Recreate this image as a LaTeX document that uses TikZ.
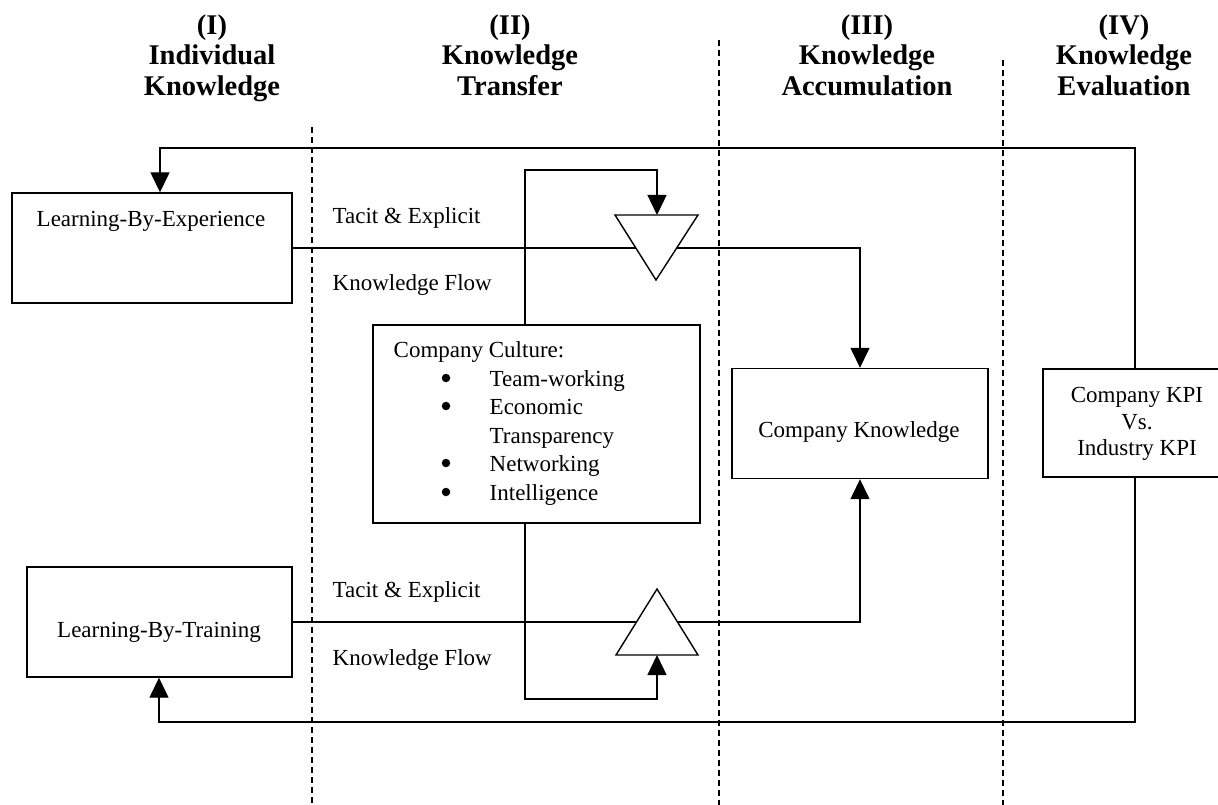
\documentclass[tikz,border=0pt]{standalone}
\usepackage{fontspec}
\setmainfont{Liberation Serif}
\usetikzlibrary{arrows.meta,calc}
\begin{document}
\begin{tikzpicture}[x=1pt,y=-1pt,
  line width=1.4pt,
  body/.style={font=\fontsize{23}{26.5}\selectfont, inner sep=0pt},
  head/.style={font=\bfseries\fontsize{28.5}{30}\selectfont, inner sep=0pt, anchor=base},
  box/.style={draw, inner sep=0pt},
  bul/.style={circle, fill, draw=none, inner sep=0pt, minimum size=8.5pt},
  divider/.style={line width=1.2pt, dash pattern=on 6pt off 4pt},
  arr/.style={-{Triangle[length=20pt,width=19pt]}},
  tri/.style={draw, fill=white, line width=1.4pt}]
\clip (0,0) rectangle (1218,805);
\fill[white] (0,0) rectangle (1218,805);

% headers
\node[head] (h1a) at (212,35) {(I)};
\node[head] (h1b) at (212,65) {Individual};
\node[head] (h1c) at (212,96) {Knowledge};
\node[head] (h2a) at (510,35) {(II)};
\node[head] (h2b) at (510,65) {Knowledge};
\node[head] (h2c) at (510,96) {Transfer};
\node[head] (h3a) at (867,35) {(III)};
\node[head] (h3b) at (867,65) {Knowledge};
\node[head] (h3c) at (867,96) {Accumulation};
\node[head] (h4a) at (1124,35) {(IV)};
\node[head] (h4b) at (1124,65) {Knowledge};
\node[head] (h4c) at (1124,96) {Evaluation};

% dividers
\draw[divider] (312,127) -- (312,805);
\draw[divider] (719,40) -- (719,805);
\draw[divider] (1003,60) -- (1003,805);

% boxes
\node[box, minimum width=280, minimum height=110] (exp) at (152,248) {};
\node[body, anchor=base] (expT) at (151,226) {Learning-By-Experience};
\node[box, minimum width=265, minimum height=110] (trn) at (159.5,622) {};
\node[body, anchor=base] (trnT) at (159,637) {Learning-By-Training};
\node[box, minimum width=327, minimum height=198] (cul) at (536.5,424) {};
\node[body, anchor=base west] (culT) at (393,357) {Company Culture:};
\node[bul] (b1) at (446,378) {};
\node[bul] (b2) at (446,406) {};
\node[bul] (b3) at (446,463) {};
\node[bul] (b4) at (446,492) {};
\node[body, anchor=base west] (i1) at (489,386) {Team-working};
\node[body, anchor=base west] (i2) at (489,414) {Economic};
\node[body, anchor=base west] (i2b) at (489,443) {Transparency};
\node[body, anchor=base west] (i3) at (489,471) {Networking};
\node[body, anchor=base west] (i4) at (489,500) {Intelligence};
\node[box, minimum width=256, minimum height=110] (ck) at (860,423.5) {};
\node[body, anchor=base] (ckT) at (859,437) {Company Knowledge};
\node[box, minimum width=184, minimum height=108] (kpi) at (1135,423) {};
\node[body, anchor=base] (kpi1) at (1137,402) {Company KPI};
\node[body, anchor=base] (kpi2) at (1137,429) {Vs.};
\node[body, anchor=base] (kpi3) at (1137,455) {Industry KPI};

% labels
\node[body, anchor=base west] (lt1) at (332,224) {Tacit \& Explicit};
\node[body, anchor=base west] (lt2) at (332,290) {Knowledge Flow};
\node[body, anchor=base west] (lb1) at (332,597) {Tacit \& Explicit};
\node[body, anchor=base west] (lb2) at (332,665) {Knowledge Flow};

% coordinates
\coordinate (fbT) at (160,148);
\coordinate (fbB) at (159,722);
\coordinate (loopT) at (525,170);
\coordinate (loopB) at (525,699);
\coordinate (tTL) at (615,215);
\coordinate (tTR) at (698,215);
\coordinate (tTB) at (656,280);
\coordinate (tTmid) at (657,215);
\coordinate (bBL) at (616,655);
\coordinate (bBR) at (698,655);
\coordinate (bBT) at (657,589);
\coordinate (bBmid) at (657,655);

% feedback
\draw[arr] (kpi.north) |- (fbT) -- (fbT |- exp.north);
\draw[arr] (kpi.south) |- (fbB) -- (fbB |- trn.south);

% flows
\draw[arr] (exp.east) -| (ck.north);
\draw[arr] (trn.east) -| (ck.south);

% triangles
\draw[tri] (tTL) -- (tTR) -- (tTB) -- cycle;
\draw[tri] (bBL) -- (bBR) -- (bBT) -- cycle;

% culture loops
\draw[arr] (loopT |- cul.north) -- (loopT) -| (tTmid);
\draw[arr] (loopB |- cul.south) -- (loopB) -| (bBmid);
\end{tikzpicture}
\end{document}
